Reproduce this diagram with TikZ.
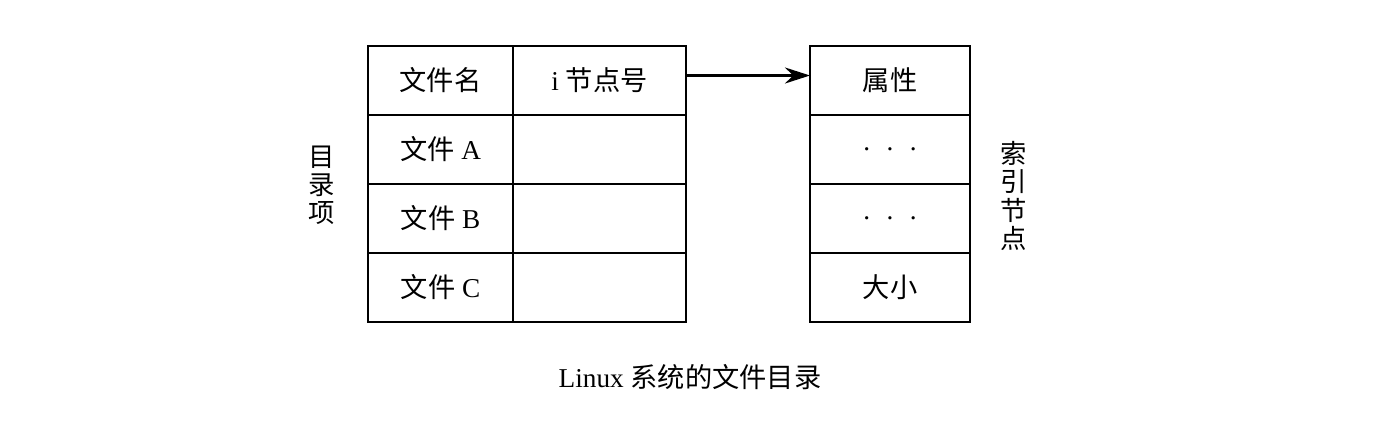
\documentclass[tikz,border=0pt]{standalone}
\usepackage{fontspec}
\setmainfont{Liberation Serif}
\newfontfamily\cjk{Noto Sans CJK SC}
\usepackage{tikz}
\usetikzlibrary{arrows.meta, positioning}

\tikzset{
  cell/.style={draw,line width=1.4pt,inner sep=0pt,outer sep=0pt,
    minimum height=1.38cm,font=\fontsize{15.5}{16}\selectfont},
  namecell/.style={cell,minimum width=2.9cm},
  numcell/.style={cell,minimum width=3.46cm},
  inodecell/.style={cell,minimum width=3.2cm},
  sidelabel/.style={align=center,font=\cjk\fontsize{15}{16}\selectfont}
}

\begin{document}
\begin{tikzpicture}
    \useasboundingbox (0,0) rectangle (27.64,-8.48);

    % directory entries
    \node[namecell,anchor=north west] (fname) at (7.36,-0.92) {\cjk 文件名};
    \node[numcell,right=0pt of fname] (inum) {i {\cjk 节点号}};
    \node[namecell,below=0pt of fname] (fa) {{\cjk 文件} A};
    \node[numcell,right=0pt of fa] (na) {};
    \node[namecell,below=0pt of fa] (fb) {{\cjk 文件} B};
    \node[numcell,right=0pt of fb] (nb) {};
    \node[namecell,below=0pt of fb] (fc) {{\cjk 文件} C};
    \node[numcell,right=0pt of fc] (nc) {};

    % index node
    \node[inodecell,anchor=north west] (attr) at (16.2,-0.92) {\cjk 属性};
    \node[inodecell,below=0pt of attr] (dotsa) {.\hspace{0.6em}.\hspace{0.6em}.};
    \node[inodecell,below=0pt of dotsa] (dotsb) {.\hspace{0.6em}.\hspace{0.6em}.};
    \node[inodecell,below=0pt of dotsb] (size) {\cjk 大小};

    \draw[-{Stealth[length=0.5cm,width=0.32cm]},line width=1.4pt]
      ([yshift=0.1cm]inum.east) -- ([yshift=0.1cm]attr.west);

    \node[sidelabel] (dirlabel) at (6.44,-3.7) {目\\录\\项};
    \node[sidelabel] (inodelabel) at (20.27,-3.92) {索\\引\\节\\点};

    \node[font=\fontsize{15.5}{16}\selectfont] (caption) at (13.8,-7.54)
      {Linux {\cjk 系统的文件目录}};
\end{tikzpicture}
\end{document}
